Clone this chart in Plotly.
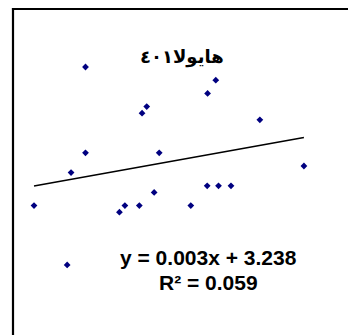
import numpy as np
import plotly.graph_objects as go

title_text = "هایولا٤٠١"
equation_text = "y = 0.003x + 3.238"
r2_text = "R² = 0.059"

x_vals = [69.0, 77.5, 78.5, 82.2, 82.2, 90.9, 92.3, 96.0, 96.7, 97.9,
          99.8, 101.1, 109.2, 113.5, 113.4, 115.6, 116.3, 119.5, 126.9, 138.2]
y_vals = [2.9, 2.0, 3.4, 5.0, 3.7, 2.8, 2.9, 2.9, 4.3, 4.4,
          3.1, 3.7, 2.9, 4.6, 3.2, 4.8, 3.2, 3.2, 4.2, 3.5]

slope, intercept = np.polyfit(x_vals, y_vals, 1)
trend_x = [min(x_vals), max(x_vals)]
trend_y = [slope * v + intercept for v in trend_x]

fig = go.Figure()
fig.add_trace(go.Scatter(
    x=trend_x, y=trend_y, mode="lines",
    line=dict(color="black", width=1.5), hoverinfo="skip", showlegend=False))
fig.add_trace(go.Scatter(
    x=x_vals, y=y_vals, mode="markers",
    marker=dict(symbol="diamond", size=5.2, color="#000080",
                line=dict(width=0)),
    showlegend=False))

fig.update_layout(
    width=356, height=335,
    margin=dict(l=5, r=0, t=0, b=0),
    paper_bgcolor="white", plot_bgcolor="white",
    xaxis=dict(range=[63.615, 153.6], visible=False),
    yaxis=dict(range=[0.818, 5.894], visible=False),
    shapes=[
        dict(type="line", xref="paper", yref="paper", x0=0, x1=0, y0=0, y1=1.01,
             line=dict(color="black", width=2.2)),
        dict(type="line", xref="paper", yref="paper", x0=-0.003, x1=1, y0=0.997, y1=0.997,
             line=dict(color="black", width=2.2)),
    ],
    annotations=[
        dict(text="<b>" + title_text + "</b>", xref="paper", yref="paper",
             x=0.4815, y=0.8537, xanchor="center", yanchor="middle", showarrow=False,
             font=dict(family="DejaVu Sans", size=18, color="black")),
        dict(text="<b>" + equation_text + "</b>", xref="paper", yref="paper",
             x=0.5584, y=0.2552, xanchor="center", yanchor="middle", showarrow=False,
             font=dict(family="Liberation Sans, Arial", size=21, color="black")),
        dict(text="<b>" + r2_text + "</b>", xref="paper", yref="paper",
             x=0.5584, y=0.1806, xanchor="center", yanchor="middle", showarrow=False,
             font=dict(family="Liberation Sans, Arial", size=21, color="black")),
    ],
)

fig.write_html("out.html")
